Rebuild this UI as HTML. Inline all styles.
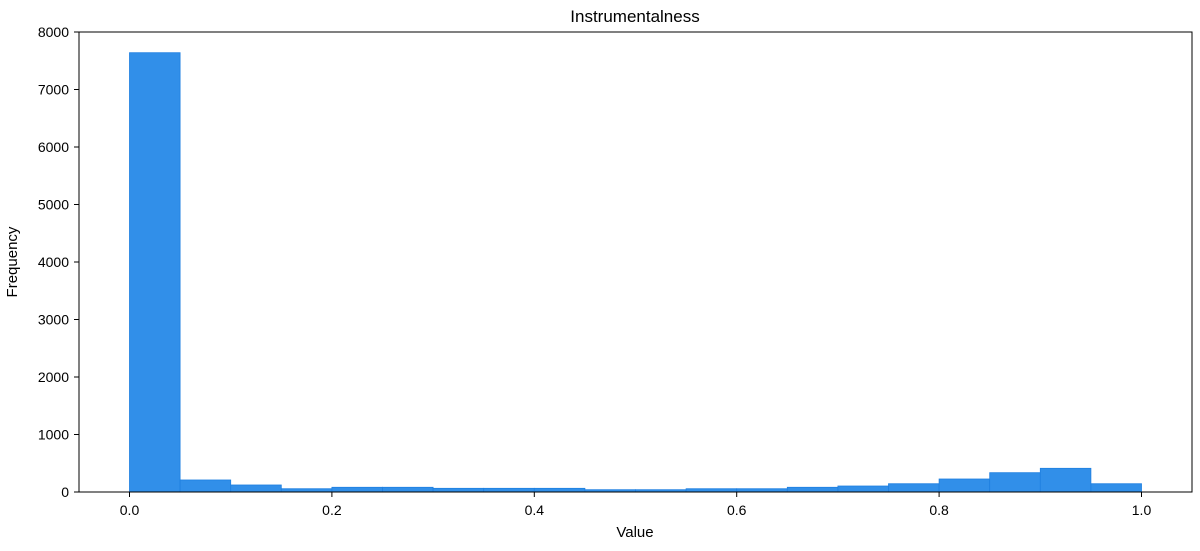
<!DOCTYPE html>
<html><head><meta charset="utf-8"><style>
body{margin:0;background:#fff;}
svg text{font-family:"Liberation Sans","DejaVu Sans",sans-serif;fill:#000;}
</style></head><body>
<svg id="chart" width="1200" height="546">
<text x="635" y="22" font-size="17" text-anchor="middle">Instrumentalness</text>
<g id="bars"></g>
<rect x="79" y="32" width="1113" height="460" fill="none" stroke="#000" stroke-width="1"/>
<g id="axes"></g>
<text x="635" y="537" font-size="15" text-anchor="middle">Value</text>
<text transform="translate(17,262) rotate(-90)" font-size="15" text-anchor="middle">Frequency</text>
</svg>
<script>
const binStarts=[0,0.05,0.1,0.15,0.2,0.25,0.3,0.35,0.4,0.45,0.5,0.55,0.6,0.65,0.7,0.75,0.8,0.85,0.9,0.95];
const counts=[7640,209,122,57,82,82,64,64,64,40,40,57,57,82,104,144,226,336,412,144];
const binWidth=0.05;
const xTicks=[0,0.2,0.4,0.6,0.8,1.0];
const xTickLabels=["0.0","0.2","0.4","0.6","0.8","1.0"];
const yTicks=[0,1000,2000,3000,4000,5000,6000,7000,8000];
const X=v=>129.5+v*1012;
const Y=v=>492-v*0.0575;
const ns="http://www.w3.org/2000/svg";
const bars=document.getElementById('bars');
const axes=document.getElementById('axes');
binStarts.forEach((b,i)=>{
  const r=document.createElementNS(ns,'rect');
  r.setAttribute('x',X(b));r.setAttribute('width',X(b+binWidth)-X(b));
  r.setAttribute('y',Y(counts[i]));r.setAttribute('height',492-Y(counts[i]));
  r.setAttribute('fill','#318fe9');r.setAttribute('stroke','#1e7fe0');r.setAttribute('stroke-width','0.8');
  
  
  bars.appendChild(r);
});
xTicks.forEach((t,i)=>{
  const l=document.createElementNS(ns,'line');
  l.setAttribute('x1',X(t));l.setAttribute('x2',X(t));l.setAttribute('y1',492);l.setAttribute('y2',497);l.setAttribute('stroke','#000');
  
  
  axes.appendChild(l);
  const tx=document.createElementNS(ns,'text');
  tx.setAttribute('x',X(t));tx.setAttribute('y',515);tx.setAttribute('font-size','14');tx.setAttribute('text-anchor','middle');
  tx.textContent=xTickLabels[i];
  
  
  axes.appendChild(tx);
});
yTicks.forEach(t=>{
  const l=document.createElementNS(ns,'line');
  l.setAttribute('x1',74);l.setAttribute('x2',79);l.setAttribute('y1',Y(t));l.setAttribute('y2',Y(t));l.setAttribute('stroke','#000');
  
  
  axes.appendChild(l);
  const tx=document.createElementNS(ns,'text');
  tx.setAttribute('x',69);tx.setAttribute('y',Y(t)+5);tx.setAttribute('font-size','14');tx.setAttribute('text-anchor','end');
  tx.textContent=t;
  
  
  axes.appendChild(tx);
});
</script>
</body></html>
